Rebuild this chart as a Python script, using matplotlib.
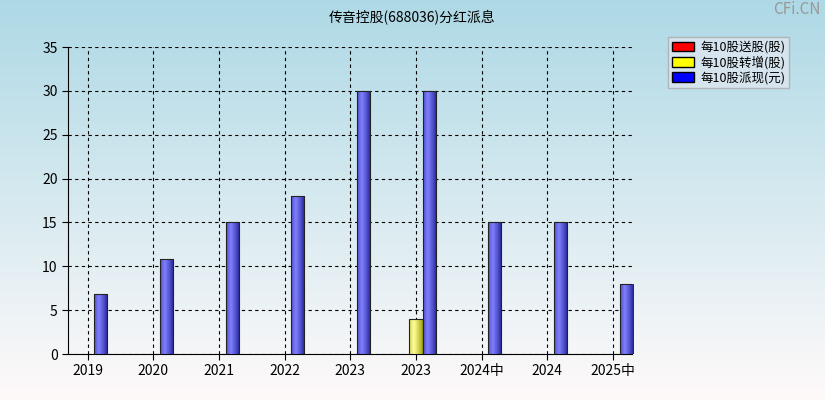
import matplotlib
matplotlib.use("Agg")
import matplotlib.pyplot as plt
import numpy as np
from matplotlib.patches import Patch

plt.rcParams['font.family'] = ['Noto Sans CJK SC', 'DejaVu Sans']

categories = ["2019", "2020", "2021", "2022", "2023", "2023", "2024中", "2024", "2025中"]
song = [0, 0, 0, 0, 0, 0, 0, 0, 0]
zhuan = [0, 0, 0, 0, 0, 4, 0, 0, 0]
pai = [6.8, 10.8, 15, 18, 30, 30, 15, 15, 8]

W, H = 825, 400
fig = plt.figure(figsize=(W/100, H/100), dpi=100)
bg = fig.add_axes([0, 0, 1, 1], zorder=-10)
grad = np.linspace(0, 1, 256).reshape(-1, 1)
top = np.array([0.68, 0.85, 0.90]); bot = np.array([1.0, 0.98, 0.98])
img = top[None, None, :] * (1 - grad[:, :, None]) + bot[None, None, :] * grad[:, :, None]
bg.imshow(img, aspect='auto', extent=[0, 1, 0, 1])
bg.axis('off')

ax = fig.add_axes([68/W, 1-354/H, (632-68)/W, (354-47)/H])
ax.patch.set_alpha(0)
x = np.arange(len(categories))

def gbar(xs, vals, off, dark, light):
    dark = np.array(dark); light = np.array(light)
    t = np.linspace(0, 1, 64)
    f = np.clip(1 - np.abs(t - 0.35) / 0.65, 0, 1) ** 0.8
    row = dark[None, :] * (1 - f[:, None]) + light[None, :] * f[:, None]
    im_arr = row[None, :, :]
    for xi, v in zip(xs, vals):
        if v <= 0: continue
        b = ax.bar(xi + off, v, 0.2, color='none', edgecolor='#222222', linewidth=0.8, zorder=4)[0]
        im = ax.imshow(im_arr, aspect='auto', extent=[xi + off - 0.1, xi + off + 0.1, 0, v], zorder=3)
        im.set_clip_path(b)

gbar(x, song, 0.0, (0.5, 0, 0), (1, 0.4, 0.4))
gbar(x, zhuan, 0.0, (0.6, 0.6, 0.0), (1, 1, 0.6))
gbar(x, pai, 0.2, (0.1, 0.1, 0.55), (0.5, 0.5, 1.0))

ax.set_xlim(-0.3, 8.29)
ax.set_ylim(0, 35)
ax.set_yticks(range(0, 36, 5))
ax.set_xticks(x)
ax.set_xticklabels(categories, fontsize=10)
ax.tick_params(labelsize=10, length=4)
ax.grid(True, color='black', linestyle=(0, (3, 3)), linewidth=0.8, zorder=1)
for s in ['top', 'right']:
    ax.spines[s].set_visible(False)

fig.text(0.5, 1-18/H, "传音控股(688036)分红派息", ha='center', va='center', fontsize=10)
fig.text(0.995, 1-10/H, "CFi.CN", ha='right', va='center', fontsize=11, color='#999999')

handles = [Patch(facecolor='#ff0000', edgecolor='black'),
           Patch(facecolor='#ffff00', edgecolor='black'),
           Patch(facecolor='#0000ff', edgecolor='black')]
leg = fig.legend(handles, ["每10股送股(股)", "每10股转增(股)", "每10股派现(元)"],
                 loc='upper left', bbox_to_anchor=(668/W, 1-37/H), fontsize=9,
                 frameon=True, fancybox=False, handlelength=1.8, handleheight=0.8,
                 borderpad=0.3, labelspacing=0.15, handletextpad=0.5, borderaxespad=0)
leg.get_frame().set_facecolor('#dde6f0')
leg.get_frame().set_edgecolor('#aaaaaa')

fig.savefig("out.png", dpi=100)
